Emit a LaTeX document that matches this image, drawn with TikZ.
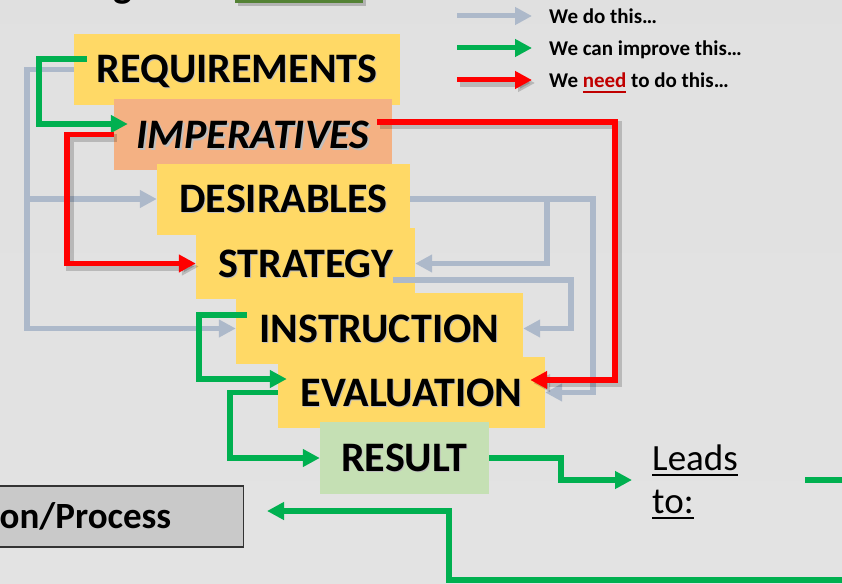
\documentclass[tikz,border=0pt]{standalone}
\usepackage{fontspec}
\setmainfont{Carlito}
\usetikzlibrary{arrows.meta,positioning,calc}

\definecolor{boxyellow}{HTML}{FFD966}
\definecolor{boxorange}{HTML}{F4B183}
\definecolor{boxgreen}{HTML}{C5E0B4}
\definecolor{procgray}{HTML}{C9C9C9}
\definecolor{flowgray}{HTML}{ADB9CA}
\definecolor{flowgreen}{HTML}{00B050}
\definecolor{flowred}{HTML}{FF0000}
\definecolor{needred}{HTML}{C00000}
\definecolor{titlegreen}{HTML}{548235}

% soft offset copy behind a label
\newcommand{\txtshadow}[2][1pt]{\rlap{\hspace{#1}\raisebox{-#1}{\color{black!25}#2}}#2}
% heavy underline
\newcommand{\ulbar}[1]{\vtop{\hbox{#1}\kern3.5pt\hrule height 2pt}}

\begin{document}
\begin{tikzpicture}[x=1pt, y=-1pt,
        every node/.style={inner sep=0pt},
        stage/.style={rectangle, fill=boxyellow, minimum height=71pt, text height=27pt, text depth=0pt,
            font=\fontsize{42}{42}\selectfont\bfseries},
        grayflow/.style={draw=flowgray, line width=5.5pt, -{Triangle[length=17pt,width=17pt]}},
        greenflow/.style={draw=flowgreen, line width=5.5pt, -{Triangle[length=17pt,width=17pt]}},
        redflow/.style={draw=flowred, line width=5.5pt, -{Triangle[length=17pt,width=17pt]},
            preaction={draw=black, opacity=.18, line width=8pt, transform canvas={shift={(3,3)}}}},
        legend/.style={anchor=base west, font=\fontsize{21}{24}\selectfont\bfseries}
        ]

        % page and background
        \useasboundingbox (0,0) rectangle (842,583);
        \clip (0,0) rectangle (842,583);
        \shade[top color=black!12, middle color=black!15.5, bottom color=black!11] (0,0) rectangle (842,583);

        % bits of the heading above
        \fill[black, opacity=.2] (238,-10) rectangle (366,6.5);
        \fill[titlegreen] (235,-10) rectangle (363,3.5);
        \node[anchor=south, font=\fontsize{40}{40}\selectfont\bfseries] (titleg) at (123,4) {g};

        % legend
        \node[legend] (legdo) at (549,23.5) {We do this…};
        \node[legend] (legcan) at (549,55.5) {We can improve this…};
        \node[legend] (legneed) at (549,87.5) {We \textcolor{needred}{\ulbar{need}} to do this…};
        \draw[grayflow, line width=5pt] (457,16) -- (532,16);
        \draw[greenflow, line width=5pt] (457,48) -- (532,48);
        \draw[redflow, line width=5pt] (457,80) -- (532,80);

        % the stair of stages
        \node[stage, minimum width=326pt] (req) at (237,69.5) {\txtshadow{REQUIREMENTS}};
        \node[stage, fill=boxorange, minimum width=278pt, font=\fontsize{42}{42}\selectfont\bfseries\itshape] (imp) at (253,134.5) {\txtshadow[2pt]{IMPERATIVES}};
        \node[stage, minimum width=253pt] (des) at (283.5,199) {\txtshadow{DESIRABLES}};
        \node[stage, minimum width=219pt] (str) at (305.5,263.5) {\txtshadow{STRATEGY}};
        \node[stage, minimum width=287pt] (ins) at (379.5,328.5) {\txtshadow{INSTRUCTION}};
        \node[stage, minimum width=267pt] (eva) at (411.5,392.5) {\txtshadow{EVALUATION}};
        \node[stage, fill=boxgreen, minimum width=169pt, minimum height=72pt] (res) at (404.5,458) {\txtshadow{RESULT}};

        % outcome side
        \node[anchor=west, align=left, font=\fontsize{37}{43}\selectfont] (leads) at (652,482) {\ulbar{Leads}\\\ulbar{to:}};
        \node[draw=black!80, line width=1.5pt, fill=procgray, minimum height=61pt, anchor=east,
              font=\fontsize{37}{37}\selectfont\bfseries] (proc) at (244,516.5) {\makebox[256pt][r]{on/Process\hspace*{72pt}}};
        \coordinate (leadsout) at (805,480);
        \coordinate (offright) at (860,480);
        \coordinate (offcorner) at (860,580);

        % what we do
        \draw[grayflow] (req.west) -- ++(-47,0) |- (des.west);
        \draw[grayflow] (req.west) -- ++(-47,0) |- (ins.west);
        \draw[grayflow] (des.east) -- ++(137,0) |- (str.east);
        \draw[grayflow] (des.east) -- ++(183,0) |- (eva.east);
        \draw[grayflow] ([shift={(-22,16.5)}]str.east) -- ++(178,0) |- (ins.east);

        % what we can improve
        \draw[greenflow] ([shift={(13,-10.5)}]req.west) -- ++(-48,0) |- ([shift={(14,-10.5)}]imp.west);
        \draw[greenflow] ([shift={(11,-13.5)}]ins.west) -- ++(-48,0) |- ([shift={(9,-13.5)}]eva.west);
        \draw[greenflow] (eva.west) -- ++(-48,0) |- (res.west);
        \draw[greenflow] (res.east) -- ++(72,0) |- ([shift={(-20,-2)}]leads.west);
        \draw[greenflow, -] (leadsout) -- (offright);
        \draw[greenflow] (offcorner) -| (449,511) -- ([shift={(23,-5.5)}]proc.east);

        % what we need
        \draw[redflow] (imp.west) -- ++(-47,0) |- (str.west);
        \draw[redflow] ([shift={(-15,-12.5)}]imp.east) -- ++(238,0) |- ([shift={(-15,-12.5)}]eva.east);

    \end{tikzpicture}
\end{document}
